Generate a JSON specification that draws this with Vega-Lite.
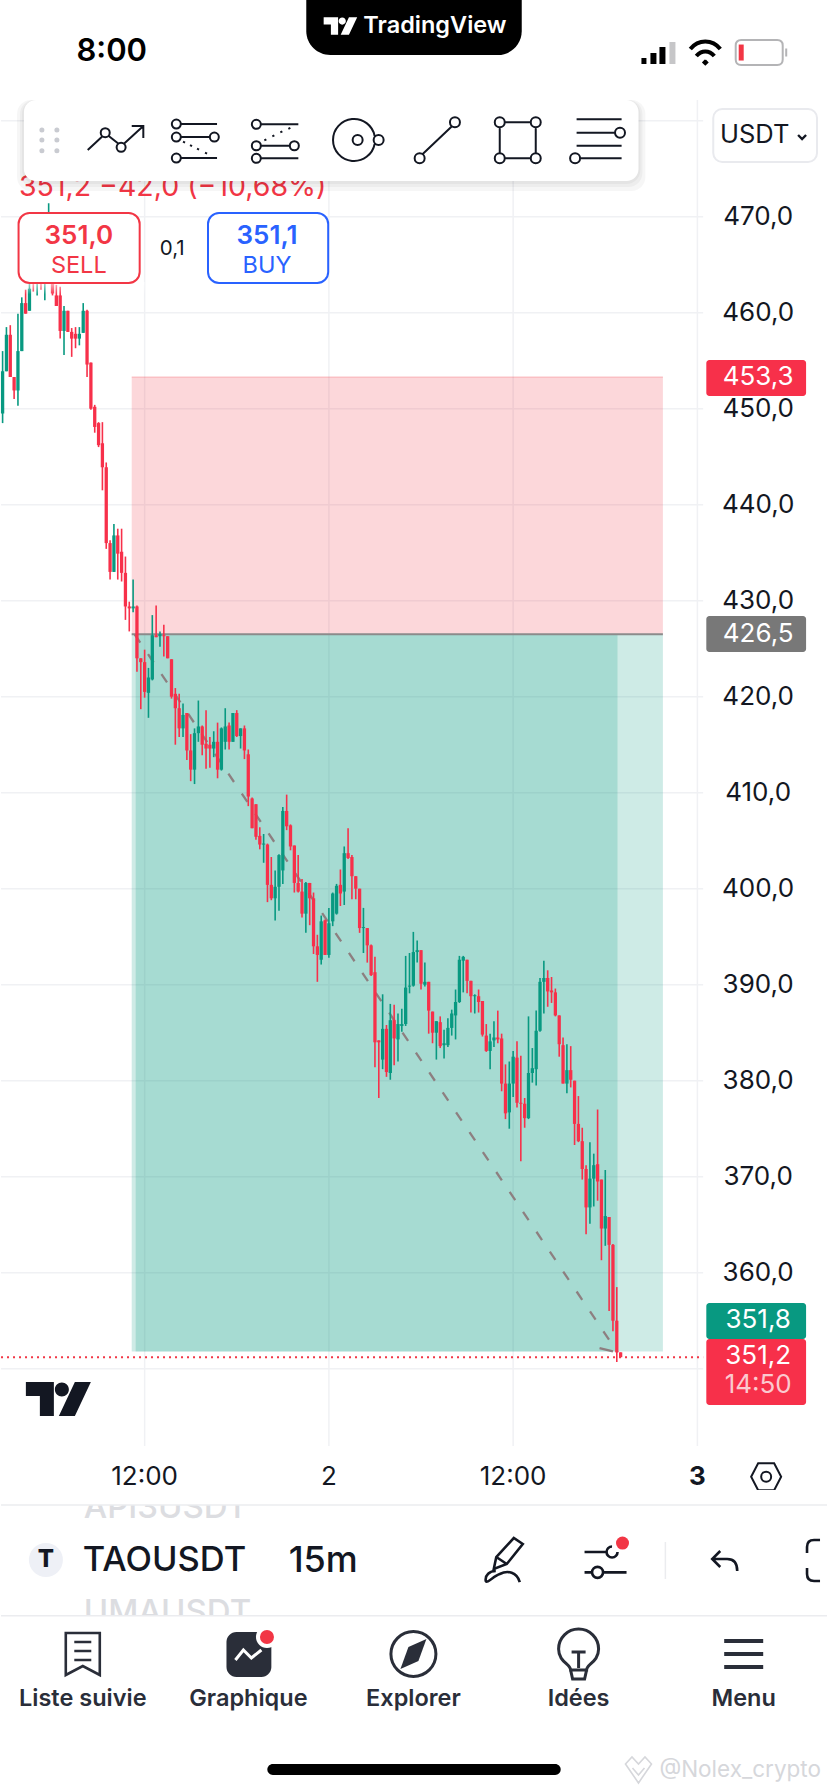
{
  "$schema": "https://vega.github.io/schema/vega-lite/v6.json",
  "width": 828,
  "height": 1792,
  "autosize": {"type": "fit", "contains": "padding"},
  "padding": 0,
  "background": "#ffffff",
  "config": {"view": {"stroke": null}, "axis": {"disable": true}, "text": {"font": "Inter"}},
  "datasets": {
    "candles": [
      {"bar":0,"open":449.5,"high":456.0,"low":448.5,"close":453.9},
      {"bar":1,"open":453.9,"high":458.5,"low":453.9,"close":457.7},
      {"bar":2,"open":457.7,"high":458.7,"low":453.3,"close":453.3},
      {"bar":3,"open":453.3,"high":453.3,"low":451.0,"close":451.9},
      {"bar":4,"open":451.9,"high":459.9,"low":450.3,"close":456.0},
      {"bar":5,"open":456.0,"high":461.6,"low":456.0,"close":461.0},
      {"bar":6,"open":461.0,"high":462.4,"low":459.9,"close":459.9},
      {"bar":7,"open":460.2,"high":464.5,"low":460.2,"close":462.5},
      {"bar":8,"open":464.0,"high":465.5,"low":462.2,"close":463.0},
      {"bar":9,"open":463.0,"high":466.0,"low":461.8,"close":465.0},
      {"bar":10,"open":465.0,"high":466.5,"low":462.4,"close":463.5},
      {"bar":11,"open":463.5,"high":468.0,"low":461.3,"close":466.0},
      {"bar":12,"open":466.0,"high":471.4,"low":464.0,"close":468.0},
      {"bar":13,"open":467.0,"high":468.5,"low":461.8,"close":462.0},
      {"bar":14,"open":461.8,"high":462.9,"low":460.7,"close":460.7},
      {"bar":15,"open":461.8,"high":462.7,"low":457.3,"close":458.1},
      {"bar":16,"open":458.1,"high":460.7,"low":455.6,"close":460.2},
      {"bar":17,"open":460.2,"high":460.2,"low":458.0,"close":458.0},
      {"bar":18,"open":458.0,"high":458.4,"low":455.4,"close":457.3},
      {"bar":19,"open":457.8,"high":458.5,"low":456.3,"close":457.3},
      {"bar":20,"open":457.3,"high":458.5,"low":456.6,"close":457.8},
      {"bar":21,"open":457.9,"high":461.0,"low":457.9,"close":460.2},
      {"bar":22,"open":460.2,"high":460.3,"low":453.3,"close":454.6},
      {"bar":23,"open":454.8,"high":454.8,"low":449.9,"close":450.0},
      {"bar":24,"open":450.2,"high":450.4,"low":447.5,"close":448.1},
      {"bar":25,"open":448.5,"high":448.6,"low":446.0,"close":446.2},
      {"bar":26,"open":446.4,"high":448.6,"low":441.5,"close":443.9},
      {"bar":27,"open":443.9,"high":444.4,"low":435.4,"close":436.0},
      {"bar":28,"open":436.0,"high":436.3,"low":432.2,"close":433.0},
      {"bar":29,"open":433.0,"high":438.0,"low":433.0,"close":436.8},
      {"bar":30,"open":436.8,"high":437.5,"low":432.2,"close":434.9},
      {"bar":31,"open":435.1,"high":437.5,"low":432.0,"close":432.9},
      {"bar":32,"open":432.9,"high":434.6,"low":428.0,"close":429.4},
      {"bar":33,"open":429.4,"high":429.9,"low":426.8,"close":429.2},
      {"bar":34,"open":429.2,"high":432.2,"low":428.8,"close":429.4},
      {"bar":35,"open":429.4,"high":429.5,"low":422.6,"close":424.0},
      {"bar":36,"open":424.0,"high":424.0,"low":418.7,"close":423.6},
      {"bar":37,"open":423.6,"high":424.9,"low":419.9,"close":420.5},
      {"bar":38,"open":420.4,"high":423.0,"low":417.8,"close":422.0},
      {"bar":39,"open":421.8,"high":428.5,"low":421.7,"close":426.4},
      {"bar":40,"open":426.4,"high":429.5,"low":426.2,"close":426.2},
      {"bar":41,"open":426.3,"high":426.8,"low":425.2,"close":426.5},
      {"bar":42,"open":426.4,"high":427.5,"low":424.2,"close":426.3},
      {"bar":43,"open":426.3,"high":426.3,"low":424.0,"close":424.0},
      {"bar":44,"open":423.9,"high":423.9,"low":419.8,"close":420.0},
      {"bar":45,"open":420.3,"high":420.9,"low":415.0,"close":418.8},
      {"bar":46,"open":418.8,"high":420.3,"low":415.8,"close":416.7},
      {"bar":47,"open":416.7,"high":419.3,"low":415.8,"close":418.1},
      {"bar":48,"open":418.3,"high":418.3,"low":413.4,"close":414.4},
      {"bar":49,"open":414.4,"high":416.1,"low":411.2,"close":412.4},
      {"bar":50,"open":412.4,"high":416.7,"low":410.9,"close":416.2},
      {"bar":51,"open":416.2,"high":419.6,"low":415.3,"close":416.9},
      {"bar":52,"open":416.9,"high":417.0,"low":413.9,"close":415.0},
      {"bar":53,"open":415.1,"high":418.6,"low":412.5,"close":414.6},
      {"bar":54,"open":415.0,"high":415.8,"low":412.6,"close":414.6},
      {"bar":55,"open":414.6,"high":416.4,"low":413.7,"close":415.3},
      {"bar":56,"open":415.3,"high":417.3,"low":411.5,"close":412.4},
      {"bar":57,"open":412.4,"high":416.8,"low":412.3,"close":416.7},
      {"bar":58,"open":415.3,"high":418.8,"low":414.5,"close":416.9},
      {"bar":59,"open":417.0,"high":417.3,"low":414.5,"close":415.3},
      {"bar":60,"open":415.3,"high":418.3,"low":415.3,"close":418.3},
      {"bar":61,"open":418.3,"high":418.6,"low":415.8,"close":415.9},
      {"bar":62,"open":415.9,"high":416.7,"low":414.6,"close":416.7},
      {"bar":63,"open":416.7,"high":417.0,"low":413.5,"close":414.4},
      {"bar":64,"open":414.0,"high":414.5,"low":408.6,"close":409.6},
      {"bar":65,"open":409.4,"high":409.5,"low":406.3,"close":406.3},
      {"bar":66,"open":408.8,"high":408.8,"low":405.1,"close":405.4},
      {"bar":67,"open":405.5,"high":406.4,"low":404.1,"close":404.6},
      {"bar":68,"open":404.6,"high":405.7,"low":402.7,"close":404.7},
      {"bar":69,"open":404.6,"high":404.7,"low":398.6,"close":400.4},
      {"bar":70,"open":400.4,"high":403.3,"low":398.8,"close":399.0},
      {"bar":71,"open":399.0,"high":401.9,"low":396.7,"close":400.2},
      {"bar":72,"open":400.2,"high":403.6,"low":397.7,"close":403.5},
      {"bar":73,"open":401.9,"high":408.5,"low":400.5,"close":408.1},
      {"bar":74,"open":408.1,"high":409.8,"low":406.1,"close":406.5},
      {"bar":75,"open":406.6,"high":406.7,"low":404.0,"close":404.4},
      {"bar":76,"open":404.5,"high":404.5,"low":399.6,"close":400.6},
      {"bar":77,"open":400.6,"high":403.5,"low":399.6,"close":399.7},
      {"bar":78,"open":399.7,"high":401.0,"low":397.0,"close":397.4},
      {"bar":79,"open":397.4,"high":400.7,"low":395.4,"close":400.6},
      {"bar":80,"open":400.6,"high":400.6,"low":396.2,"close":399.0},
      {"bar":81,"open":399.0,"high":399.6,"low":393.2,"close":394.0},
      {"bar":82,"open":394.0,"high":395.2,"low":390.3,"close":393.1},
      {"bar":83,"open":392.6,"high":397.2,"low":392.1,"close":396.6},
      {"bar":84,"open":396.7,"high":396.8,"low":393.1,"close":393.1},
      {"bar":85,"open":393.1,"high":398.0,"low":392.8,"close":396.4},
      {"bar":86,"open":396.6,"high":399.6,"low":396.1,"close":399.5},
      {"bar":87,"open":397.4,"high":400.5,"low":397.3,"close":400.3},
      {"bar":88,"open":400.4,"high":402.0,"low":398.2,"close":399.5},
      {"bar":89,"open":399.7,"high":404.4,"low":398.3,"close":403.7},
      {"bar":90,"open":403.7,"high":406.3,"low":403.1,"close":403.2},
      {"bar":91,"open":403.3,"high":403.5,"low":398.9,"close":401.3},
      {"bar":92,"open":401.3,"high":401.3,"low":398.9,"close":400.0},
      {"bar":93,"open":400.0,"high":400.0,"low":395.4,"close":395.9},
      {"bar":94,"open":395.9,"high":398.0,"low":393.3,"close":396.0},
      {"bar":95,"open":395.9,"high":395.9,"low":392.3,"close":394.1},
      {"bar":96,"open":394.1,"high":394.2,"low":390.9,"close":391.0},
      {"bar":97,"open":391.3,"high":392.9,"low":381.4,"close":384.0},
      {"bar":98,"open":384.2,"high":384.2,"low":378.2,"close":384.0},
      {"bar":99,"open":382.2,"high":389.0,"low":381.2,"close":385.4},
      {"bar":100,"open":385.4,"high":385.8,"low":380.4,"close":380.9},
      {"bar":101,"open":380.8,"high":388.0,"low":380.1,"close":386.3},
      {"bar":102,"open":386.3,"high":387.9,"low":381.6,"close":384.4},
      {"bar":103,"open":384.3,"high":387.0,"low":382.0,"close":385.9},
      {"bar":104,"open":385.7,"high":387.5,"low":385.1,"close":385.9},
      {"bar":105,"open":385.9,"high":393.0,"low":385.7,"close":389.7},
      {"bar":106,"open":389.8,"high":393.3,"low":389.1,"close":389.9},
      {"bar":107,"open":389.9,"high":395.5,"low":389.8,"close":393.4},
      {"bar":108,"open":393.4,"high":394.6,"low":392.3,"close":393.6},
      {"bar":109,"open":393.6,"high":393.6,"low":389.5,"close":390.1},
      {"bar":110,"open":390.0,"high":392.3,"low":389.8,"close":390.3},
      {"bar":111,"open":390.3,"high":390.3,"low":384.9,"close":387.3},
      {"bar":112,"open":387.2,"high":387.2,"low":383.9,"close":385.0},
      {"bar":113,"open":385.0,"high":386.2,"low":382.2,"close":386.2},
      {"bar":114,"open":386.1,"high":386.7,"low":383.4,"close":383.6},
      {"bar":115,"open":383.7,"high":385.3,"low":382.3,"close":383.9},
      {"bar":116,"open":383.7,"high":386.5,"low":383.5,"close":385.5},
      {"bar":117,"open":385.5,"high":387.4,"low":384.7,"close":387.0},
      {"bar":118,"open":386.8,"high":389.5,"low":384.3,"close":388.2},
      {"bar":119,"open":388.2,"high":393.0,"low":388.1,"close":392.6},
      {"bar":120,"open":392.5,"high":393.0,"low":389.2,"close":392.9},
      {"bar":121,"open":392.6,"high":392.6,"low":389.1,"close":390.4},
      {"bar":122,"open":390.4,"high":390.4,"low":387.1,"close":388.8},
      {"bar":123,"open":388.8,"high":389.0,"low":387.0,"close":388.9},
      {"bar":124,"open":388.8,"high":389.5,"low":387.1,"close":388.2},
      {"bar":125,"open":388.3,"high":388.3,"low":384.6,"close":384.8},
      {"bar":126,"open":384.7,"high":385.9,"low":383.0,"close":383.1},
      {"bar":127,"open":383.1,"high":384.9,"low":381.2,"close":384.1},
      {"bar":128,"open":384.2,"high":386.2,"low":383.5,"close":384.5},
      {"bar":129,"open":384.5,"high":387.3,"low":383.9,"close":384.3},
      {"bar":130,"open":384.4,"high":384.9,"low":378.9,"close":379.7},
      {"bar":131,"open":379.7,"high":381.7,"low":376.0,"close":376.6},
      {"bar":132,"open":376.7,"high":382.0,"low":375.0,"close":379.7},
      {"bar":133,"open":379.7,"high":383.1,"low":378.3,"close":382.5},
      {"bar":134,"open":382.4,"high":384.1,"low":377.2,"close":377.7},
      {"bar":135,"open":377.7,"high":382.6,"low":371.6,"close":377.6},
      {"bar":136,"open":377.6,"high":378.2,"low":375.1,"close":376.1},
      {"bar":137,"open":376.1,"high":386.7,"low":376.0,"close":380.8},
      {"bar":138,"open":380.8,"high":383.4,"low":379.8,"close":381.3},
      {"bar":139,"open":381.2,"high":387.3,"low":379.5,"close":385.2},
      {"bar":140,"open":385.2,"high":390.7,"low":385.1,"close":390.3},
      {"bar":141,"open":390.3,"high":392.5,"low":387.0,"close":390.7},
      {"bar":142,"open":390.7,"high":391.5,"low":387.7,"close":389.3},
      {"bar":143,"open":389.4,"high":390.8,"low":388.1,"close":389.2},
      {"bar":144,"open":389.2,"high":389.6,"low":386.7,"close":386.8},
      {"bar":145,"open":386.8,"high":386.8,"low":382.5,"close":383.8},
      {"bar":146,"open":383.7,"high":384.5,"low":379.7,"close":379.7},
      {"bar":147,"open":379.7,"high":383.8,"low":378.7,"close":381.1},
      {"bar":148,"open":381.1,"high":383.6,"low":379.3,"close":380.1},
      {"bar":149,"open":380.0,"high":380.0,"low":373.3,"close":375.5},
      {"bar":150,"open":375.5,"high":378.4,"low":373.6,"close":373.7},
      {"bar":151,"open":373.7,"high":375.1,"low":369.7,"close":370.8},
      {"bar":152,"open":370.8,"high":371.2,"low":364.0,"close":366.8},
      {"bar":153,"open":366.8,"high":373.6,"low":365.1,"close":369.8},
      {"bar":154,"open":369.8,"high":372.4,"low":366.9,"close":371.2},
      {"bar":155,"open":371.3,"high":377.0,"low":367.5,"close":369.5},
      {"bar":156,"open":369.7,"high":369.7,"low":361.3,"close":364.6},
      {"bar":157,"open":364.6,"high":370.7,"low":362.8,"close":365.9},
      {"bar":158,"open":365.8,"high":365.8,"low":356.0,"close":362.9},
      {"bar":159,"open":362.9,"high":363.0,"low":353.9,"close":355.0},
      {"bar":160,"open":355.0,"high":358.5,"low":350.7,"close":351.7},
      {"bar":161,"open":351.7,"high":351.7,"low":351.2,"close":351.2}
    ],
    "priceGrid": [
      {"bar":-0.41,"bar2":182.5,"price":480},{"bar":-0.41,"bar2":182.5,"price":470},{"bar":-0.41,"bar2":182.5,"price":460},{"bar":-0.41,"bar2":182.5,"price":450},
      {"bar":-0.41,"bar2":182.5,"price":440},{"bar":-0.41,"bar2":182.5,"price":430},{"bar":-0.41,"bar2":182.5,"price":420},{"bar":-0.41,"bar2":182.5,"price":410},
      {"bar":-0.41,"bar2":182.5,"price":400},{"bar":-0.41,"bar2":182.5,"price":390},{"bar":-0.41,"bar2":182.5,"price":380},{"bar":-0.41,"bar2":182.5,"price":370},
      {"bar":-0.41,"bar2":182.5,"price":360},{"bar":-0.41,"bar2":182.5,"price":350}
    ],
    "priceLabels": [
      {"bar":196.83,"price":470,"label":"470,0"},{"bar":196.83,"price":460,"label":"460,0"},{"bar":196.83,"price":450,"label":"450,0"},
      {"bar":196.83,"price":440,"label":"440,0"},{"bar":196.83,"price":430,"label":"430,0"},{"bar":196.83,"price":420,"label":"420,0"},
      {"bar":196.83,"price":410,"label":"410,0"},{"bar":196.83,"price":400,"label":"400,0"},{"bar":196.83,"price":390,"label":"390,0"},
      {"bar":196.83,"price":380,"label":"380,0"},{"bar":196.83,"price":370,"label":"370,0"},{"bar":196.83,"price":360,"label":"360,0"}
    ]
  },
  "data": {"name": "candles"},
  "encoding": {
    "x": {"field": "bar", "type": "quantitative", "axis": null, "scale": {"domain": [-0.416, 214.76], "nice": false, "zero": false}},
    "y": {"field": "price", "type": "quantitative", "axis": null, "scale": {"domain": [305.906, 492.573], "nice": false, "zero": false}}
  },
  "layer": [
    {
      "data": {"name": "priceGrid"},
      "mark": {"type": "rule", "color": "#f0f1f4", "strokeWidth": 1.5},
      "encoding": {"x2": {"field": "bar2"}}
    },
    {
      "data": {"values": [
        {"bar":37,"price":482.15,"price2":341.95},{"bar":85,"price":482.15,"price2":341.95},
        {"bar":133,"price":482.15,"price2":341.95},{"bar":181,"price":482.15,"price2":341.95}
      ]},
      "mark": {"type": "rule", "color": "#f0f1f4", "strokeWidth": 1.5},
      "encoding": {"y2": {"field": "price2"}}
    },
    {
      "data": {"values": [{"bar":33.63,"bar2":172.01,"price":453.3,"price2":426.5}]},
      "mark": {"type": "rect", "color": "#f23645", "opacity": 0.2},
      "encoding": {"x2": {"field": "bar2"}, "y2": {"field": "price2"}}
    },
    {
      "data": {"values": [{"bar":33.63,"bar2":172.01,"price":426.5,"price2":351.8},{"bar":34.67,"bar2":160.19,"price":426.5,"price2":351.8}]},
      "mark": {"type": "rect", "color": "#089981", "opacity": 0.2},
      "encoding": {"x2": {"field": "bar2"}, "y2": {"field": "price2"}}
    },
    {
      "data": {"values": [{"bar":33.63,"bar2":172.01,"price":453.3}]},
      "mark": {"type": "rule", "color": "#f23645", "opacity": 0.2, "strokeWidth": 1.5},
      "encoding": {"x2": {"field": "bar2"}}
    },
    {
      "data": {"values": [{"bar":33.63,"bar2":172.01,"price":426.5}]},
      "mark": {"type": "rule", "color": "#8b8b8b", "strokeWidth": 2},
      "encoding": {"x2": {"field": "bar2"}}
    },
    {
      "data": {"values": [{"bar":34.4,"price":426.5},{"bar":160.2,"price":351.7}]},
      "mark": {"type": "line", "color": "#8d7f80", "strokeWidth": 2.3, "strokeDash": [10, 14]}
    },
    {
      "data": {"values": [{"bar":155.5,"price":352.15},{"bar":159,"price":351.8}]},
      "mark": {"type": "line", "color": "#8d7f80", "strokeWidth": 2.3}
    },
    {
      "mark": {"type": "rule", "strokeWidth": 1.6},
      "encoding": {
        "y": {"field": "high", "type": "quantitative"},
        "y2": {"field": "low"},
        "color": {"condition": {"test": "datum.close >= datum.open", "value": "#089981"}, "value": "#f7304a"}
      }
    },
    {
      "mark": {"type": "rule", "strokeWidth": 3.3},
      "encoding": {
        "y": {"field": "open", "type": "quantitative"},
        "y2": {"field": "close"},
        "color": {"condition": {"test": "datum.close >= datum.open", "value": "#089981"}, "value": "#f7304a"}
      }
    },
    {
      "data": {"values": [{"bar":-0.41,"bar2":182.5,"price":351.2}]},
      "mark": {"type": "rule", "color": "#f23645", "strokeWidth": 2, "strokeDash": [2, 4]},
      "encoding": {"x2": {"field": "bar2"}}
    },
    {
      "data": {"values": [{"bar":-0.416,"bar2":37,"price":463.2,"price2":461.9}]},
      "mark": {"type": "rect", "opacity": 0.7, "color": {"gradient": "linear", "x1": 0, "y1": 0, "x2": 0, "y2": 1, "stops": [{"offset": 0, "color": "#ffffff"}, {"offset": 1, "color": "#ffffff00"}]}},
      "encoding": {"x2": {"field": "bar2"}, "y2": {"field": "price2"}}
    },
    {
      "data": {"values": [{"bar":4.26,"price":473.1,"label":"351,2  −42,0 (−10,68%)"}]},
      "mark": {"type": "text", "font": "Inter", "fontSize": 28.5, "align": "left", "baseline": "middle", "color": "#f23645"},
      "encoding": {"text": {"field": "label"}}
    },
    {
      "data": {"values": [{"bar":3.74,"bar2":167.46,"price":482.16,"price2":472.68},{"bar":4.52,"bar2":166.69,"price":482.16,"price2":473.09},{"bar":5.04,"bar2":166.17,"price":482.16,"price2":473.41}]},
      "mark": {"type": "rect", "color": "#000000", "opacity": 0.035, "cornerRadius": 14},
      "encoding": {"x2": {"field": "bar2"}, "y2": {"field": "price2"}}
    },
    {
      "data": {"values": [{"bar":5.56,"bar2":165.65,"price":482.16,"price2":473.72}]},
      "mark": {"type": "rect", "color": "#ffffff", "cornerRadius": 12},
      "encoding": {"x2": {"field": "bar2"}, "y2": {"field": "price2"}}
    },
    {
      "data": {"values": [{"bar":10.24,"price":479.03},{"bar":14.14,"price":479.03},{"bar":10.24,"price":477.99},{"bar":14.14,"price":477.99},{"bar":10.24,"price":476.88},{"bar":14.14,"price":476.88}]},
      "mark": {"type": "point", "shape": "circle", "filled": true, "size": 25, "color": "#c9cbd1", "opacity": 1}
    },
    {
      "data": {"values": [{"bar":29.47,"price":478.3}]},
      "mark": {"type": "point", "filled": false, "size": 4, "color": "#131722", "opacity": 1, "strokeWidth": 2, "shape": "M-28 13L-13.5 -0.5M-7 -1L2.5 6.5M8.5 6.5L27.6 -11M16 -11L27.6 -11L27.6 1M-6 -4.3a4.5 4.5 0 1 0 -9 0a4.5 4.5 0 1 0 9 0M9.9 10.3a4.5 4.5 0 1 0 -9 0a4.5 4.5 0 1 0 9 0"}
    },
    {
      "data": {"values": [{"bar":50.13,"price":477.81}]},
      "mark": {"type": "point", "filled": false, "size": 4, "color": "#131722", "opacity": 1, "strokeWidth": 2, "shape": "M-14.2 -17.7a4.5 4.5 0 1 0 -9 0a4.5 4.5 0 1 0 9 0M-14.2 -17.7H22M-14.2 -4.7a4.5 4.5 0 1 0 -9 0a4.5 4.5 0 1 0 9 0M-14.2 -4.7H14.8M23.8 -4.7a4.5 4.5 0 1 0 -9 0a4.5 4.5 0 1 0 9 0M-14.2 16.3a4.5 4.5 0 1 0 -9 0a4.5 4.5 0 1 0 9 0M-14.2 16.3H22M-12 0l2 1M-5 3.5l2 1M2 7l2 1M10 11l2 1"}
    },
    {
      "data": {"values": [{"bar":71.05,"price":477.85}]},
      "mark": {"type": "point", "filled": false, "size": 4, "color": "#131722", "opacity": 1, "strokeWidth": 2, "shape": "M-14.5 -17a4.5 4.5 0 1 0 -9 0a4.5 4.5 0 1 0 9 0M-14.5 -17H23M-14.5 4.4a4.5 4.5 0 1 0 -9 0a4.5 4.5 0 1 0 9 0M-14.5 4.4H14.5M23.5 4.4a4.5 4.5 0 1 0 -9 0a4.5 4.5 0 1 0 9 0M-14.5 17a4.5 4.5 0 1 0 -9 0a4.5 4.5 0 1 0 9 0M-14.5 17H23M-11 -1l2 -1M-3 -5l2 -1M5 -9l2 -1M13 -12.5l2 -1"}
    },
    {
      "data": {"values": [{"bar":92.49,"price":477.99}]},
      "mark": {"type": "point", "filled": false, "size": 4, "color": "#131722", "opacity": 1, "strokeWidth": 2, "shape": "M17 -4A21 21 0 1 0 17 4M5 0a5 5 0 1 0 -10 0a5 5 0 1 0 10 0M26 0a5 5 0 1 0 -10 0a5 5 0 1 0 10 0"}
    },
    {
      "data": {"values": [{"bar":113.28,"price":477.96}]},
      "mark": {"type": "point", "filled": false, "size": 4, "color": "#131722", "opacity": 1, "strokeWidth": 2, "shape": "M-15 14L14.5 -14M-12.8 18a5 5 0 1 0 -10 0a5 5 0 1 0 10 0M22.5 -18a5 5 0 1 0 -10 0a5 5 0 1 0 10 0"}
    },
    {
      "data": {"values": [{"bar":134.2,"price":477.96}]},
      "mark": {"type": "point", "filled": false, "size": 4, "color": "#131722", "opacity": 1, "strokeWidth": 2, "shape": "M-13 -18H13M-13 18H13M-18 -13V13M18 -13V13M-13 -18a5 5 0 1 0 -10 0a5 5 0 1 0 10 0M23 -18a5 5 0 1 0 -10 0a5 5 0 1 0 10 0M-13 18a5 5 0 1 0 -10 0a5 5 0 1 0 10 0M23 18a5 5 0 1 0 -10 0a5 5 0 1 0 10 0"}
    },
    {
      "data": {"values": [{"bar":155.0,"price":478.09}]},
      "mark": {"type": "point", "filled": false, "size": 4, "color": "#131722", "opacity": 1, "strokeWidth": 2, "shape": "M-21 -19.7H24M-21 -6.3H17.4M27.4 -6.3a5 5 0 1 0 -10 0a5 5 0 1 0 10 0M-21 6.7H24M-17.5 19.3a5 5 0 1 0 -10 0a5 5 0 1 0 10 0M-17.5 19.3H24"}
    },
    {
      "data": {"values": [{"bar":79.11,"bar2":135.24,"price":492.573,"price2":486.84}]},
      "mark": {"type": "rect", "color": "#000000", "cornerRadiusBottomLeft": 24, "cornerRadiusBottomRight": 24},
      "encoding": {"x2": {"field": "bar2"}, "y2": {"field": "price2"}}
    },
    {
      "data": {"values": [{"bar":87.94,"price":489.87}]},
      "mark": {"type": "point", "filled": true, "size": 1.065, "color": "#ffffff", "opacity": 1, "strokeWidth": 0, "shape": "M-32 -17H-4V17H-18V-3H-32ZM11 -9.5a7 7 0 1 0 -14 0a7 7 0 1 0 14 0ZM33 -17L17 17H1L17 -17Z"}
    },
    {
      "data": {"values": [{"bar":14.4,"price":346.85}]},
      "mark": {"type": "point", "filled": true, "size": 4, "color": "#131722", "opacity": 1, "strokeWidth": 0, "shape": "M-32 -17H-4V17H-18V-3H-32ZM11 -9.5a7 7 0 1 0 -14 0a7 7 0 1 0 14 0ZM33 -17L17 17H1L17 -17Z"}
    },
    {
      "data": {"values": [{"bar":112.63,"price":489.87,"label":"TradingView"}]},
      "mark": {"type": "text", "font": "Inter", "fontSize": 23.5, "fontWeight": 600, "baseline": "middle", "color": "#ffffff"},
      "encoding": {"text": {"field": "label"}}
    },
    {
      "data": {"values": [{"bar":28.43,"price":487.16,"label":"8:00"}]},
      "mark": {"type": "text", "font": "Inter", "fontSize": 31, "fontWeight": 600, "baseline": "middle", "color": "#000000"},
      "encoding": {"text": {"field": "label"}}
    },
    {
      "data": {"values": [{"bar":170.85,"price":487.05}]},
      "mark": {"type": "point", "filled": true, "size": 4, "color": "#000000", "opacity": 1, "strokeWidth": 0, "shape": "M-17 11V5H-12V11ZM-8 11V0H-2V11ZM1 11V-6H7V11Z"}
    },
    {
      "data": {"values": [{"bar":170.85,"price":487.05}]},
      "mark": {"type": "point", "filled": true, "size": 4, "color": "#c6c6c8", "opacity": 1, "strokeWidth": 0, "shape": "M11 11V-11H17V11Z"}
    },
    {
      "data": {"values": [{"bar":183.06,"price":487.16}]},
      "mark": {"type": "point", "filled": false, "size": 4, "color": "#000000", "opacity": 1, "strokeWidth": 4, "shape": "M-15 -3C-7 -13 7 -13 15 -3M-9 4C-4 -2 4 -2 9 4M-2 9L0 11L2 9"}
    },
    {
      "data": {"values": [{"bar":197.1,"price":487.1}]},
      "mark": {"type": "point", "filled": false, "size": 4, "color": "#b4b4b6", "opacity": 1, "strokeWidth": 2, "shape": "M-18 -12.5H18Q23.5 -12.5 23.5 -7V7Q23.5 12.5 18 12.5H-18Q-23.5 12.5 -23.5 7V-7Q-23.5 -12.5 -18 -12.5ZM27 -4V4"}
    },
    {
      "data": {"values": [{"bar":197.1,"price":487.1}]},
      "mark": {"type": "point", "filled": true, "size": 4, "color": "#f23645", "opacity": 1, "strokeWidth": 0, "shape": "M-20.5 -8H-15.5V8H-20.5Z"}
    },
    {
      "data": {"values": [{"bar":185.13,"bar2":212.16,"price":481.22,"price2":475.7}]},
      "mark": {"type": "rect", "fill": "#ffffff", "stroke": "#e9eaee", "strokeWidth": 2, "cornerRadius": 9},
      "encoding": {"x2": {"field": "bar2"}, "y2": {"field": "price2"}}
    },
    {
      "data": {"values": [{"bar":195.92,"price":478.51,"label":"USDT"}]},
      "mark": {"type": "text", "font": "Inter", "fontSize": 25.5, "baseline": "middle", "color": "#131722"},
      "encoding": {"text": {"field": "label"}}
    },
    {
      "data": {"values": [{"bar":208.27,"price":478.3}]},
      "mark": {"type": "point", "filled": false, "size": 4, "color": "#131722", "opacity": 1, "strokeWidth": 2.4, "shape": "M-4 -2L0 2L4 -2"}
    },
    {
      "data": {"values": [{"bar":4.16,"bar2":35.71,"price":470.39,"price2":463.09}]},
      "mark": {"type": "rect", "fill": "#ffffff", "stroke": "#f23645", "strokeWidth": 2, "cornerRadius": 11},
      "encoding": {"x2": {"field": "bar2"}, "y2": {"field": "price2"}}
    },
    {
      "data": {"values": [{"bar":53.51,"bar2":84.82,"price":470.39,"price2":463.09}]},
      "mark": {"type": "rect", "fill": "#ffffff", "stroke": "#2962ff", "strokeWidth": 2, "cornerRadius": 11},
      "encoding": {"x2": {"field": "bar2"}, "y2": {"field": "price2"}}
    },
    {
      "data": {"values": [{"bar":19.85,"price":467.99,"label":"351,0"}]},
      "mark": {"type": "text", "font": "Inter", "fontSize": 26, "fontWeight": 600, "baseline": "middle", "color": "#f23645"},
      "encoding": {"text": {"field": "label"}}
    },
    {
      "data": {"values": [{"bar":19.85,"price":464.86,"label":"SELL"}]},
      "mark": {"type": "text", "font": "Inter", "fontSize": 23.5, "baseline": "middle", "color": "#f23645"},
      "encoding": {"text": {"field": "label"}}
    },
    {
      "data": {"values": [{"bar":68.87,"price":467.99,"label":"351,1"}]},
      "mark": {"type": "text", "font": "Inter", "fontSize": 26, "fontWeight": 600, "baseline": "middle", "color": "#2962ff"},
      "encoding": {"text": {"field": "label"}}
    },
    {
      "data": {"values": [{"bar":68.87,"price":464.86,"label":"BUY"}]},
      "mark": {"type": "text", "font": "Inter", "fontSize": 23.5, "baseline": "middle", "color": "#2962ff"},
      "encoding": {"text": {"field": "label"}}
    },
    {
      "data": {"values": [{"bar":44.18,"price":466.64,"label":"0,1"}]},
      "mark": {"type": "text", "font": "Inter", "fontSize": 20.5, "baseline": "middle", "color": "#131722"},
      "encoding": {"text": {"field": "label"}}
    },
    {
      "data": {"name": "priceLabels"},
      "mark": {"type": "text", "font": "Inter", "fontSize": 26, "baseline": "middle", "color": "#131722"},
      "encoding": {"text": {"field": "label"}}
    },
    {
      "data": {"values": [{"bar":183.32,"bar2":209.31,"price":455.07,"price2":451.32},{"bar":183.32,"bar2":209.31,"price":353.09,"price2":346.22}]},
      "mark": {"type": "rect", "color": "#f7304a", "cornerRadius": 3},
      "encoding": {"x2": {"field": "bar2"}, "y2": {"field": "price2"}}
    },
    {
      "data": {"values": [{"bar":183.32,"bar2":209.31,"price":428.41,"price2":424.66}]},
      "mark": {"type": "rect", "color": "#787878", "cornerRadius": 3},
      "encoding": {"x2": {"field": "bar2"}, "y2": {"field": "price2"}}
    },
    {
      "data": {"values": [{"bar":183.32,"bar2":209.31,"price":356.84,"price2":353.09}]},
      "mark": {"type": "rect", "color": "#089981", "cornerRadius": 3},
      "encoding": {"x2": {"field": "bar2"}, "y2": {"field": "price2"}}
    },
    {
      "data": {"values": [{"bar":196.83,"price":453.3,"label":"453,3"},{"bar":196.83,"price":426.5,"label":"426,5"},{"bar":196.83,"price":355.07,"label":"351,8"},{"bar":196.83,"price":351.32,"label":"351,2"}]},
      "mark": {"type": "text", "font": "Inter", "fontSize": 26, "baseline": "middle", "color": "#ffffff"},
      "encoding": {"text": {"field": "label"}}
    },
    {
      "data": {"values": [{"bar":196.83,"price":348.3,"label":"14:50"}]},
      "mark": {"type": "text", "font": "Inter", "fontSize": 26, "baseline": "middle", "color": "#fbc9cf"},
      "encoding": {"text": {"field": "label"}}
    },
    {
      "data": {"values": [{"bar":37,"price":338.75,"label":"12:00"},{"bar":85,"price":338.75,"label":"2"},{"bar":133,"price":338.75,"label":"12:00"}]},
      "mark": {"type": "text", "font": "Inter", "fontSize": 26, "baseline": "middle", "color": "#131722"},
      "encoding": {"text": {"field": "label"}}
    },
    {
      "data": {"values": [{"bar":181,"price":338.75,"label":"3"}]},
      "mark": {"type": "text", "font": "Inter", "fontSize": 26, "fontWeight": 700, "baseline": "middle", "color": "#131722"},
      "encoding": {"text": {"field": "label"}}
    },
    {
      "data": {"values": [{"bar":198.91,"price":338.75}]},
      "mark": {"type": "point", "filled": false, "size": 4, "color": "#131722", "opacity": 1, "strokeWidth": 2, "shape": "M-15 0L-8 -13.5H8L15 0L8 13.5H-8ZM5 0a5 5 0 1 0 -10 0a5 5 0 1 0 10 0"}
    },
    {
      "data": {"values": [{"bar":21.15,"price":335.48,"label":"API3USDT"},{"bar":21.15,"price":324.5,"label":"UMAUSDT"}]},
      "mark": {"type": "text", "font": "Inter", "fontSize": 33, "fontWeight": 500, "align": "left", "baseline": "middle", "color": "#dcdde1"},
      "encoding": {"text": {"field": "label"}}
    },
    {
      "data": {"values": [{"bar":-0.416,"bar2":214.76,"price":337.37,"price2":335.8},{"bar":-0.416,"bar2":214.76,"price":324.27,"price2":321.74}]},
      "mark": {"type": "rect", "color": "#ffffff"},
      "encoding": {"x2": {"field": "bar2"}, "y2": {"field": "price2"}}
    },
    {
      "data": {"values": [{"bar":-0.416,"bar2":214.76,"price":335.8},{"bar":-0.416,"bar2":214.76,"price":324.27}]},
      "mark": {"type": "rule", "color": "#ebecef", "strokeWidth": 1.5},
      "encoding": {"x2": {"field": "bar2"}}
    },
    {
      "data": {"values": [{"bar":11.28,"price":330.07}]},
      "mark": {"type": "point", "shape": "circle", "filled": true, "size": 1156, "color": "#eef0f6", "opacity": 1}
    },
    {
      "data": {"values": [{"bar":11.28,"price":330.07,"label":"T"}]},
      "mark": {"type": "text", "font": "Inter", "fontSize": 24, "fontWeight": 800, "baseline": "middle", "color": "#131722"},
      "encoding": {"text": {"field": "label"}}
    },
    {
      "data": {"values": [{"bar":20.89,"price":329.97,"label":"TAOUSDT"}]},
      "mark": {"type": "text", "font": "Inter", "fontSize": 34.5, "fontWeight": 500, "align": "left", "baseline": "middle", "color": "#131722"},
      "encoding": {"text": {"field": "label"}}
    },
    {
      "data": {"values": [{"bar":83.52,"price":329.97,"label":"15m"}]},
      "mark": {"type": "text", "font": "Inter", "fontSize": 36, "fontWeight": 500, "baseline": "middle", "color": "#131722"},
      "encoding": {"text": {"field": "label"}}
    },
    {
      "data": {"values": [{"bar":131.08,"price":330.07}]},
      "mark": {"type": "point", "filled": false, "size": 4, "color": "#131722", "opacity": 1, "strokeWidth": 2.6, "shape": "M-12 9L-9.5 -3L8 -22L17 -16L1 4ZM-9.5 -3L1 4M-10 11C-16 11 -21 15 -20 21C-19 24 -12 16 -6 14C2 10 11 12 14 22"}
    },
    {
      "data": {"values": [{"bar":157.07,"price":329.86}]},
      "mark": {"type": "point", "filled": false, "size": 4, "color": "#131722", "opacity": 1, "strokeWidth": 2.6, "shape": "M-21 -10H1M12 -10a5.5 5.5 0 1 1 -5.5 -5.5M-2.5 10.3a5.5 5.5 0 1 0 -11 0a5.5 5.5 0 1 0 11 0M-21 10.3H-13.5M-2.5 10.3H21"}
    },
    {
      "data": {"values": [{"bar":161.49,"price":331.84}]},
      "mark": {"type": "point", "shape": "circle", "filled": true, "size": 169, "color": "#f23645", "opacity": 1}
    },
    {
      "data": {"values": [{"bar":172.66,"price":331.95,"price2":328.09}]},
      "mark": {"type": "rule", "color": "#ebecef", "strokeWidth": 1.5},
      "encoding": {"y2": {"field": "price2"}}
    },
    {
      "data": {"values": [{"bar":187.99,"price":329.97}]},
      "mark": {"type": "point", "filled": false, "size": 4, "color": "#131722", "opacity": 1, "strokeWidth": 2.6, "shape": "M-4 -10L-12 -2L-4 6M-12 -2H3C10 -2 13 3 13 10"}
    },
    {
      "data": {"values": [{"bar":211.12,"price":330.07}]},
      "mark": {"type": "point", "filled": false, "size": 4, "color": "#131722", "opacity": 1, "strokeWidth": 2.6, "shape": "M7 -20H1Q-6 -20 -6 -13V-7M-6 8V14Q-6 21 1 21H7"}
    },
    {
      "data": {"values": [{"bar":20.89,"price":320.28}]},
      "mark": {"type": "point", "filled": false, "size": 4, "color": "#2a2e39", "opacity": 1, "strokeWidth": 2.6, "shape": "M-17 21V-21H17V21L0 12ZM-8.5 -12H8.5M-8.5 -3H8.5M-8.5 6H8.5"}
    },
    {
      "data": {"values": [{"bar":58.32,"bar2":70.01,"price":322.57,"price2":317.89}]},
      "mark": {"type": "rect", "color": "#2a2e39", "cornerRadius": 10},
      "encoding": {"x2": {"field": "bar2"}, "y2": {"field": "price2"}}
    },
    {
      "data": {"values": [{"bar":64.03,"price":320.18}]},
      "mark": {"type": "point", "filled": false, "size": 4, "color": "#ffffff", "opacity": 1, "strokeWidth": 3, "shape": "M-13 5L-5 -5L3 3L13 -5"}
    },
    {
      "data": {"values": [{"bar":68.87,"price":322.05}]},
      "mark": {"type": "point", "shape": "circle", "filled": true, "size": 484, "color": "#ffffff", "opacity": 1}
    },
    {
      "data": {"values": [{"bar":68.87,"price":322.05}]},
      "mark": {"type": "point", "shape": "circle", "filled": true, "size": 196, "color": "#f23645", "opacity": 1}
    },
    {
      "data": {"values": [{"bar":107.02,"price":320.28}]},
      "mark": {"type": "point", "filled": false, "size": 4, "color": "#2a2e39", "opacity": 1, "strokeWidth": 3, "shape": "M22.5 0a22.5 22.5 0 1 0 -45 0a22.5 22.5 0 1 0 45 0"}
    },
    {
      "data": {"values": [{"bar":107.02,"price":320.28}]},
      "mark": {"type": "point", "filled": true, "size": 4, "color": "#2a2e39", "opacity": 1, "strokeWidth": 0, "shape": "M13 -15L5 7L-13 15L-5 -7Z"}
    },
    {
      "data": {"values": [{"bar":150.05,"price":320.49}]},
      "mark": {"type": "point", "filled": false, "size": 4, "color": "#2a2e39", "opacity": 1, "strokeWidth": 3, "shape": "M-8 18C-8 12 -20 10 -20 -3A20 20 0 1 1 20 -3C20 10 8 12 8 18ZM-7 0H7M0 0V16M-8 18L-6 27H6L8 18"}
    },
    {
      "data": {"values": [{"bar":193.06,"price":320.28}]},
      "mark": {"type": "point", "filled": true, "size": 4, "color": "#2a2e39", "opacity": 1, "strokeWidth": 0, "shape": "M-19.5 -15H19.5V-11H-19.5ZM-19.5 -2H19.5V2H-19.5ZM-19.5 11H19.5V15H-19.5Z"}
    },
    {
      "data": {"values": [
        {"bar":20.89,"price":315.59,"label":"Liste suivie"},
        {"bar":64.03,"price":315.59,"label":"Graphique"},
        {"bar":107.02,"price":315.59,"label":"Explorer"},
        {"bar":150.05,"price":315.59,"label":"Idées"},
        {"bar":193.06,"price":315.59,"label":"Menu"}
      ]},
      "mark": {"type": "text", "font": "Inter", "fontSize": 23.5, "fontWeight": 600, "baseline": "middle", "color": "#2a2e39"},
      "encoding": {"text": {"field": "label"}}
    },
    {
      "data": {"values": [{"bar":68.97,"bar2":145.38,"price":308.82,"price2":307.68}]},
      "mark": {"type": "rect", "color": "#000000", "cornerRadius": 5.5},
      "encoding": {"x2": {"field": "bar2"}, "y2": {"field": "price2"}}
    },
    {
      "data": {"values": [{"bar":171.11,"price":308.2,"label":"@Nolex_crypto"}]},
      "mark": {"type": "text", "font": "Inter", "fontSize": 22.5, "align": "left", "baseline": "middle", "color": "#d6d7db"},
      "encoding": {"text": {"field": "label"}}
    },
    {
      "data": {"values": [{"bar":165.65,"price":308.2}]},
      "mark": {"type": "point", "filled": false, "size": 4, "color": "#d6d7db", "opacity": 1, "strokeWidth": 1.6, "shape": "M-13 -6L-6.5 -13L0 -6L6.5 -13L13 -6L0 13ZM-6 -2L0 5L6 -2"}
    }
  ]
}
